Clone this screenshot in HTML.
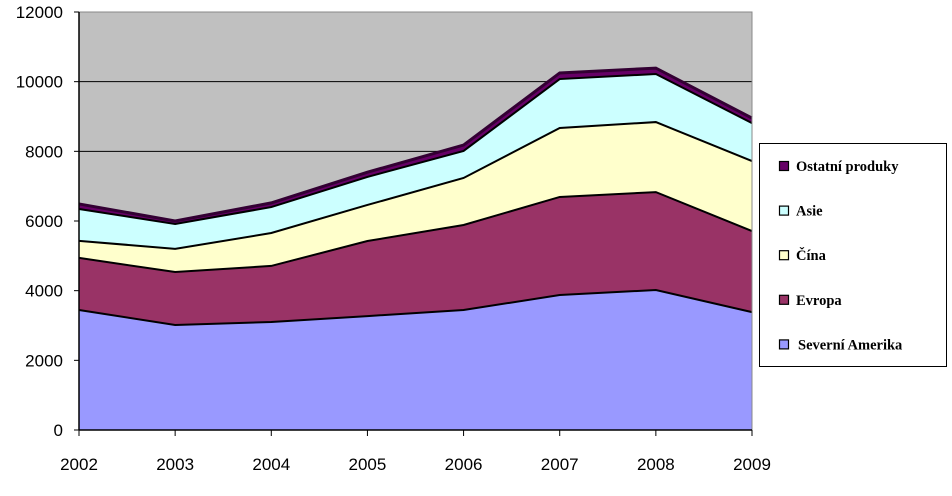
<!DOCTYPE html>
<html><head><meta charset="utf-8"><style>
body{margin:0;background:#fff;width:952px;height:496px;overflow:hidden}
svg{display:block}
</style></head><body>
<svg id="chart" width="952" height="496" xmlns="http://www.w3.org/2000/svg"></svg>
<script>
const years = ["2002","2003","2004","2005","2006","2007","2008","2009"];
const severniAmerika = [3445,3015,3100,3270,3445,3875,4020,3385];
const evropa = [1495,1520,1610,2155,2440,2815,2810,2325];
const cina = [490,665,945,1035,1350,1980,2010,2010];
const asie = [915,715,745,805,775,1405,1380,1090];
const ostatni = [145,85,120,135,170,175,170,145];
const yTicks = [0,2000,4000,6000,8000,10000,12000];
const seriesNames = ["Severní Amerika","Evropa","Čína","Asie","Ostatní produky"];

const NS="http://www.w3.org/2000/svg";
const svg=document.getElementById('chart');
const X0=79,X1=752,Y0=430,Y1=12,YMAX=12000;
const xs=i=>X0+i*(X1-X0)/(years.length-1);
const ys=v=>Y0-v*(Y0-Y1)/YMAX;
function mk(tag,attrs){const e=document.createElementNS(NS,tag);for(const k in attrs)e.setAttribute(k,attrs[k]);svg.appendChild(e);return e;}

const bg=mk('rect',{x:X0,y:Y1,width:X1-X0,height:Y0-Y1,fill:'#c0c0c0'});



const series=[severniAmerika,evropa,cina,asie,ostatni];
const fills=['#9999ff','#993366','#ffffcc','#ccffff','#660066'];
const keys=['severni-amerika','evropa','cina','asie','ostatni-produky'];
let cum=years.map(()=>0);
const tops=[];
series.forEach((s,k)=>{
  const lower=cum.slice();
  cum=cum.map((c,i)=>c+s[i]);
  let d='M'+years.map((_,i)=>xs(i)+','+ys(cum[i])).join(' L');
  for(let i=years.length-1;i>=0;i--)d+=' L'+xs(i)+','+ys(lower[i]);
  d+='Z';
  const p=mk('path',{d:d,fill:fills[k],stroke:'none'});
  
  
  tops.push(cum.slice());
});
// gridlines
yTicks.forEach(v=>{
  if(v>0&&v<YMAX){
    const g=mk('line',{x1:X0,x2:X1,y1:ys(v),y2:ys(v),stroke:'#000','stroke-width':1});
    
    
  }
});
// redraw areas above grid? grid is hidden behind areas in original: redraw areas
svg.querySelectorAll('path').forEach(p=>svg.appendChild(p));
tops.forEach((t,k)=>{
  const pl=mk('polyline',{points:years.map((_,i)=>xs(i)+','+ys(t[i])).join(' '),fill:'none',stroke:k==4?'#330033':'#000','stroke-width':k==4?3:2});
  
  
});
// border top/right
const br=mk('polyline',{points:`${X0},${Y1} ${X1},${Y1} ${X1},${Y0}`,fill:'none',stroke:'#888','stroke-width':1});


// axes
const ya=mk('line',{x1:X0,x2:X0,y1:Y1,y2:Y0,stroke:'#000','stroke-width':1.5});


const xa=mk('line',{x1:X0,x2:X1,y1:Y0,y2:Y0,stroke:'#000','stroke-width':1.5});


yTicks.forEach(v=>{
  const t=mk('line',{x1:X0-5,x2:X0,y1:ys(v),y2:ys(v),stroke:'#000'});
  
  
  const l=mk('text',{x:X0-16,y:ys(v)+6,'text-anchor':'end','font-family':'Liberation Sans, sans-serif','font-size':17});
  l.textContent=v;
  
  
});
years.forEach((y,i)=>{
  const t=mk('line',{x1:xs(i),x2:xs(i),y1:Y0,y2:Y0+6,stroke:'#000'});
  
  
  const l=mk('text',{x:xs(i),y:470,'text-anchor':'middle','font-family':'Liberation Sans, sans-serif','font-size':17});
  l.textContent=y;
  
  
});
// legend
const lb=mk('rect',{x:759.5,y:143.5,width:187,height:223,fill:'#fff',stroke:'#000'});


const order=[4,3,2,1,0];
order.forEach((k,j)=>{
  const cy=166+j*44.6;
  const sw=mk('rect',{x:779.5,y:cy-4.5,width:9,height:9,fill:fills[k],stroke:'#000','stroke-width':1.2});
  
  
  const tx=mk('text',{x:k==0?798:796,y:cy+5,'font-family':'Liberation Serif, serif','font-weight':'bold','font-size':14.5});
  tx.textContent=seriesNames[k];
  
  
});
</script>
</body></html>
